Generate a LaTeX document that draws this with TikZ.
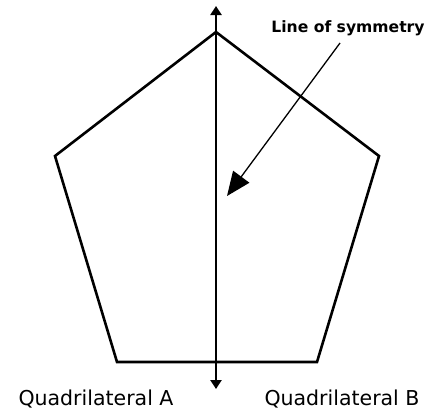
\documentclass[tikz,border=0pt]{standalone}
\usepackage{fontspec}
\setmainfont{DejaVu Sans}
\usetikzlibrary{arrows.meta}
\begin{document}
\begin{tikzpicture}[x=1pt,y=-1pt,
  edge/.style={line width=2.6pt,line join=miter},
  axis/.style={line width=2.6pt,{Triangle[length=9pt,width=11pt]}-{Triangle[length=9pt,width=11pt]}},
  pointer/.style={line width=1.3pt,-{Triangle[length=24pt,width=20pt]}},
  lbl/.style={inner sep=0pt}]
\useasboundingbox (0,0) rectangle (443,413);
\coordinate (T) at (216,32);
\coordinate (R) at (379,156);
\coordinate (BR) at (317,362);
\coordinate (BL) at (117,362);
\coordinate (L) at (55,156);
\draw[edge] (T) -- (R) -- (BR) -- (BL) -- (L) -- cycle;
\coordinate (top) at (216,6);
\coordinate (bot) at (216,389);
\draw[axis] (top) -- (bot);
\node[lbl,font=\bfseries\fontsize{15.6}{18}\selectfont] (los) at (348,28) {Line of symmetry};
\coordinate (ps) at (340,43);
\coordinate (pe) at (227,196);
\draw[pointer] (ps) -- (pe);
\node[lbl,font=\fontsize{20.5}{24}\selectfont] (qa) at (96,399) {Quadrilateral A};
\node[lbl,font=\fontsize{20.5}{24}\selectfont] (qb) at (342,399) {Quadrilateral B};
\end{tikzpicture}
\end{document}
